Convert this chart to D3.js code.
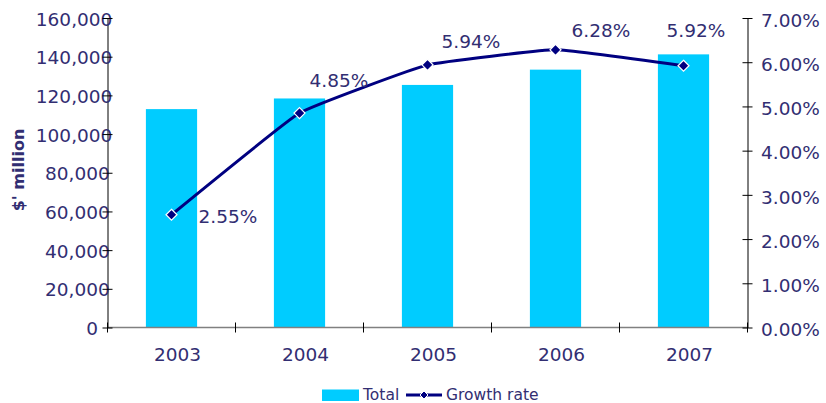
<!DOCTYPE html>
<html>
<head>
<meta charset="utf-8">
<script src="https://cdn.jsdelivr.net/npm/d3@7"></script>
<style>
  html, body { margin: 0; padding: 0; background: #fff; }
  svg { display: block; font-family: "DejaVu Sans", Verdana, sans-serif; }
</style>
</head>
<body>
<svg id="chart" width="826" height="403"></svg>
<script>
// Annual totals ($ million) and year-on-year growth rate
const years = ["2003", "2004", "2005", "2006", "2007"];
const totals = [112900, 118400, 125400, 133300, 141200];
const growth = [2.55, 4.85, 5.94, 6.28, 5.92];
const leftTicks = [0, 20000, 40000, 60000, 80000, 100000, 120000, 140000, 160000];
const rightTicks = [0, 1, 2, 3, 4, 5, 6, 7];

const textColor = "#322E72";
const barColor = "#00CCFF";
const lineColor = "#000080";

const svg = d3.select("#chart");
const plotLeft = 107.5, plotRight = 747.5, plotTop = 18, plotBottom = 327.5;

const x = d3.scaleBand().domain(years).range([plotLeft, plotRight])
  .paddingInner(0.6).paddingOuter(0.3);
const step = x.step();
const yL = d3.scaleLinear().domain([0, 160000]).range([plotBottom, plotTop]);
const yR = d3.scaleLinear().domain([0, 7]).range([plotBottom, plotTop]);

// Bars
svg.append("g").selectAll("rect").data(years).join("rect")
  .attr("x", d => x(d))
  .attr("width", x.bandwidth())
  .attr("y", (d, i) => yL(totals[i]))
  .attr("height", (d, i) => plotBottom - yL(totals[i]))
  .attr("fill", barColor);

// Category axis: grey baseline with boundary ticks
svg.append("line")
  .attr("x1", plotLeft).attr("x2", plotRight).attr("y1", plotBottom).attr("y2", plotBottom)
  .attr("stroke", "#808080").attr("stroke-width", 1.5);
svg.append("g").selectAll("line").data(d3.range(years.length + 1)).join("line")
  .attr("x1", i => plotLeft + i * step).attr("x2", i => plotLeft + i * step)
  .attr("y1", plotBottom - 5).attr("y2", plotBottom + 5)
  .attr("stroke", "#000").attr("stroke-width", 1);
svg.append("g").selectAll("text").data(years).join("text")
  .attr("x", d => x(d) + x.bandwidth() / 2 + 6)
  .attr("y", plotBottom + 33)
  .attr("text-anchor", "middle")
  .attr("fill", textColor).attr("font-size", "18.5px")
  .text(d => d);

// Left value axis
const axL = svg.append("g").attr("transform", `translate(${plotLeft},0)`)
  .call(d3.axisLeft(yL).tickValues(leftTicks).tickSize(0).tickFormat(d3.format(",")));
axL.select(".domain").attr("stroke", "#000");
axL.selectAll(".tick").append("line").attr("x1", -5).attr("x2", 5).attr("stroke", "#000");
axL.selectAll(".tick text")
  .attr("fill", textColor).attr("font-size", "18.5px")
  .attr("font-family", "DejaVu Sans, Verdana, sans-serif")
  .attr("dy", "0.38em")
  .each(function () {
    const w = this.getComputedTextLength();
    d3.select(this).attr("x", -12 + 0.22 * w);
  });

// Right percentage axis
const axR = svg.append("g").attr("transform", `translate(${plotRight},0)`)
  .call(d3.axisRight(yR).tickValues(rightTicks).tickSize(0).tickFormat(d => d.toFixed(2) + "%"));
axR.select(".domain").attr("stroke", "#000");
axR.selectAll(".tick").append("line").attr("x1", -5).attr("x2", 5).attr("stroke", "#000");
axR.selectAll(".tick text")
  .attr("x", 13.5).attr("dy", "0.45em")
  .attr("fill", textColor).attr("font-size", "18.5px")
  .attr("font-family", "DejaVu Sans, Verdana, sans-serif");

// Axis title
svg.append("text")
  .attr("transform", "translate(24,170) rotate(-90)")
  .attr("text-anchor", "middle")
  .attr("fill", textColor).attr("font-size", "16px").attr("font-weight", "bold")
  .text("$' million");

// Growth-rate line (smoothed) with diamond markers
const cx = i => x(years[i]) + x.bandwidth() / 2;
const line = d3.line().x((d, i) => cx(i)).y(d => yR(d)).curve(d3.curveCardinal.tension(0.7));
svg.append("path").datum(growth)
  .attr("d", line).attr("fill", "none")
  .attr("stroke", lineColor).attr("stroke-width", 3);

const diamond = r => `M0,${-r}L${r},0L0,${r}L${-r},0Z`;
svg.append("g").selectAll("path").data(growth).join("path")
  .attr("transform", (d, i) => `translate(${cx(i)},${yR(d)})`)
  .attr("d", diamond(5.5))
  .attr("fill", lineColor).attr("stroke", "#fff").attr("stroke-width", 1.2);

// Data labels (offsets from each marker)
const labelOffsets = [[27, 8], [10, -26], [14, -17], [16, -13], [-17, -29]];
svg.append("g").selectAll("text").data(growth).join("text")
  .attr("x", (d, i) => cx(i) + labelOffsets[i][0])
  .attr("y", (d, i) => yR(d) + labelOffsets[i][1])
  .attr("fill", textColor).attr("font-size", "18.5px")
  .text(d => d.toFixed(2) + "%");

// Legend
const lg = svg.append("g");
lg.append("rect").attr("x", 322).attr("y", 389.5).attr("width", 37).attr("height", 11.5).attr("fill", barColor);
lg.append("text").attr("x", 363).attr("y", 399.5).attr("fill", textColor).attr("font-size", "15.5px").text("Total");
lg.append("line").attr("x1", 406).attr("x2", 442).attr("y1", 395).attr("y2", 395)
  .attr("stroke", lineColor).attr("stroke-width", 3);
lg.append("path").attr("transform", "translate(424,395)").attr("d", diamond(4))
  .attr("fill", lineColor).attr("stroke", "#fff").attr("stroke-width", 1);
lg.append("text").attr("x", 446).attr("y", 399.5).attr("fill", textColor).attr("font-size", "15.5px").text("Growth rate");
</script>
</body>
</html>
